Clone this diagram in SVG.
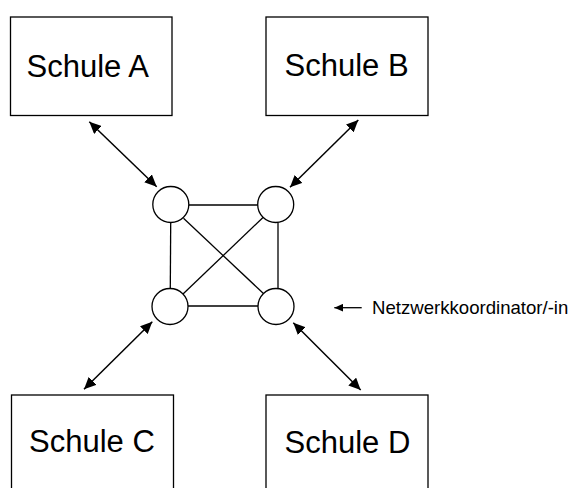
<svg xmlns="http://www.w3.org/2000/svg" width="574" height="488" viewBox="0 0 574 488">
<defs>
<style>
.box{fill:#fff;stroke:#000;stroke-width:1.3}
.lbl{font-family:"Liberation Sans",Arial,sans-serif;font-size:31px;fill:#000}
.small{font-family:"Liberation Sans",Arial,sans-serif;font-size:18.6px;fill:#000}
.node{fill:#fff;stroke:#000;stroke-width:1.3}
.edge{stroke:#000;stroke-width:1.3;fill:none}
.arr{stroke:#000;stroke-width:1.5;fill:none;marker-start:url(#ah);marker-end:url(#ah)}
</style>
<marker id="ah" markerUnits="userSpaceOnUse" markerWidth="13" markerHeight="11" refX="12" refY="5.5" orient="auto-start-reverse">
<path d="M0,0 L12,5.5 L0,11 z" fill="#000"/>
</marker>
<marker id="sh" markerUnits="userSpaceOnUse" markerWidth="10" markerHeight="8" refX="9" refY="4" orient="auto">
<path d="M0,0 L9,4 L0,8 z" fill="#000"/>
</marker>
</defs>
<rect width="574" height="488" fill="#fff"/>
<g id="schule-a"><rect class="box" x="10.5" y="17" width="161.5" height="98.5"/><text class="lbl" x="26.5" y="76.5">Schule A</text></g>
<g id="schule-b"><rect class="box" x="266" y="17" width="162" height="98.5"/><text class="lbl" x="284.5" y="75.5">Schule B</text></g>
<g id="schule-c"><rect class="box" x="11.5" y="395" width="162" height="100"/><text class="lbl" x="29" y="452">Schule C</text></g>
<g id="schule-d"><rect class="box" x="266" y="395" width="162" height="100"/><text class="lbl" x="284.5" y="452.5">Schule D</text></g>
<g id="connectors">
<line class="edge" x1="189" y1="205" x2="258" y2="205"/>
<line class="edge" x1="188" y1="306" x2="258" y2="306"/>
<line class="edge" x1="170.7" y1="222.5" x2="170.3" y2="288.5"/>
<line class="edge" x1="278" y1="222.5" x2="278" y2="288.5"/>
<line class="edge" x1="183.5" y1="218.3" x2="264.5" y2="294.5"/>
<line class="edge" x1="263" y1="217.5" x2="183" y2="294"/>
<line class="arr" x1="89.3" y1="121.7" x2="156.7" y2="186.7"/>
<line class="arr" x1="358.3" y1="120" x2="290" y2="187.3"/>
<line class="arr" x1="152.3" y1="321.7" x2="84" y2="389.3"/>
<line class="arr" x1="293.3" y1="322.7" x2="360.7" y2="390"/>
<line class="edge" x1="361.7" y1="307.7" x2="334.3" y2="307.7" stroke-width="1.5" marker-end="url(#sh)"/>
</g>
<g id="n1"><circle class="node" cx="170.8" cy="204.5" r="18"/></g>
<g id="n2"><circle class="node" cx="275.7" cy="204.5" r="18"/></g>
<g id="n3"><circle class="node" cx="170" cy="306.5" r="18"/></g>
<g id="n4"><circle class="node" cx="276" cy="306.5" r="18"/></g>
<g id="label"><text class="small" x="372" y="314">Netzwerkkoordinator/-in</text></g>
</svg>
